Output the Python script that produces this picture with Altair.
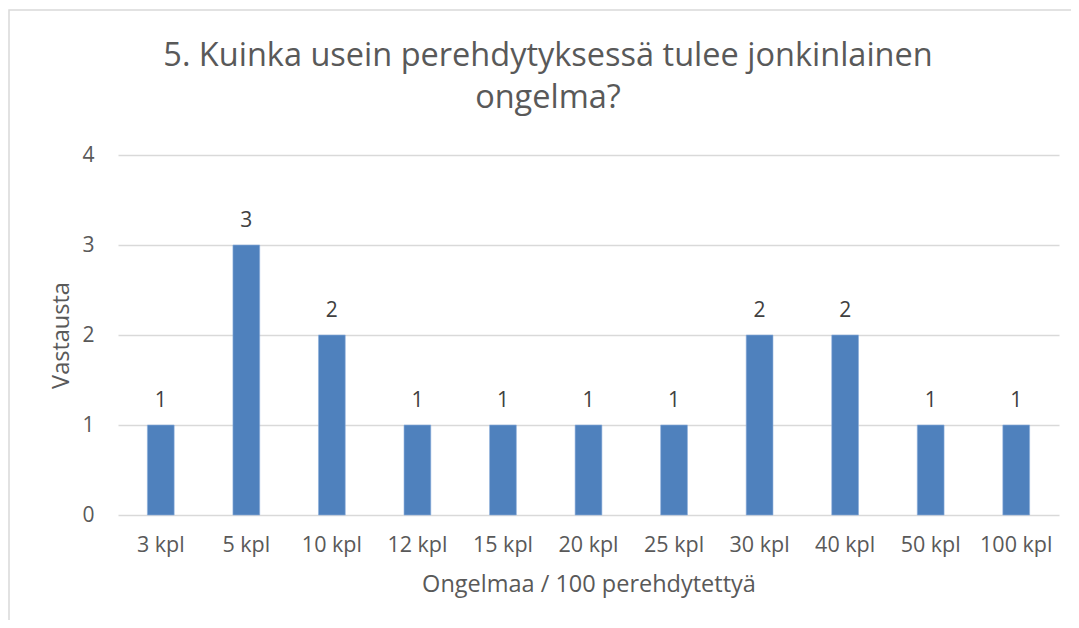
import altair as alt
import pandas as pd

categories = ["3 kpl", "5 kpl", "10 kpl", "12 kpl", "15 kpl", "20 kpl",
              "25 kpl", "30 kpl", "40 kpl", "50 kpl", "100 kpl"]
values = [1, 3, 2, 1, 1, 1, 1, 2, 2, 1, 1]
y_ticks = [0, 1, 2, 3, 4]
title_lines = ["5. Kuinka usein perehdytyksessä tulee jonkinlainen", "ongelma?"]
x_title = "Ongelmaa / 100 perehdytettyä"
y_title = "Vastausta"

df = pd.DataFrame({"kategoria": categories, "vastausta": values})

FONT = "Open Sans"
GRAY = "#595959"
GRID = "#D9D9D9"
BAR = "#4F81BD"

x = alt.X(
    "kategoria:N", sort=categories, title=x_title,
    scale=alt.Scale(paddingInner=0.687, paddingOuter=0.3435),
    axis=alt.Axis(labelAngle=0, ticks=False, domain=False, labelPadding=19,
                  titlePadding=17, labelFontSize=21.5, titleFontSize=23.5,
                  labelColor=GRAY, titleColor=GRAY, labelFont=FONT,
                  titleFont=FONT, titleFontWeight="normal", grid=False),
)
y = alt.Y(
    "vastausta:Q", title=y_title, scale=alt.Scale(domain=[0, 4]),
    axis=alt.Axis(values=y_ticks, grid=True, gridColor=GRID, gridWidth=1.5,
                  domain=False, ticks=False, labelPadding=24,
                  labelFontSize=21, titleFontSize=23.5, labelColor=GRAY,
                  titleColor=GRAY, labelFont=FONT, titleFont=FONT,
                  titleFontWeight="normal", titlePadding=8, format="d"),
)

base = alt.Chart(df)
bars = base.mark_bar(color=BAR, stroke="#8DAEDB", strokeWidth=0.6).encode(x=x, y=y)
labels = base.mark_text(baseline="alphabetic", dy=-18, fontSize=21, font=FONT,
                        color="#404040").encode(x=x, y=y, text="vastausta:Q")

frame = alt.Chart(pd.DataFrame({"k": [0]})).mark_rect(
    fillOpacity=0, stroke=GRID, strokeWidth=1.5
).encode(x=alt.value(-109), x2=alt.value(1100), y=alt.value(-145), y2=alt.value(700))

title = alt.Chart(pd.DataFrame({"k": [0]})).mark_text(
    text=title_lines, fontSize=32.5, font=FONT, color=GRAY, align="center",
    baseline="alphabetic", lineHeight=42
).encode(x=alt.value(430), y=alt.value(-89))

chart = alt.layer(frame, bars, labels, title).properties(
    width=941, height=360,
    autosize=alt.AutoSizeParams(type="none"),
    padding={"left": 110, "top": 147, "right": 12, "bottom": 105},
).configure_view(stroke=None)

chart.save("out.html", embed_options={"renderer": "svg", "actions": False})
